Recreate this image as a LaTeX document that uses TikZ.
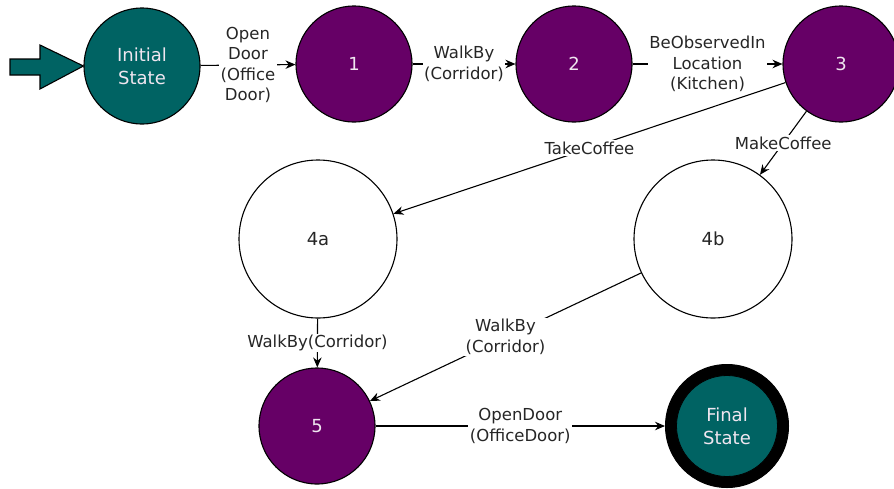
\documentclass[tikz,border=0pt]{standalone}
\usepackage{fontspec}
\setmainfont{DejaVu Sans}
\usetikzlibrary{arrows.meta}
\definecolor{stteal}{HTML}{006363}
\definecolor{stpurple}{HTML}{660066}
\definecolor{sttext}{HTML}{F0E6F0}
\tikzset{
  every picture/.style={x=1pt,y=-1pt},
  stbase/.style={circle,draw=black,line width=1.1pt,inner sep=0pt,align=center,
    font=\fontsize{18}{23}\selectfont},
  stinit/.style={stbase,fill=stteal,text=sttext,minimum size=116pt},
  stmid/.style={stbase,fill=stpurple,text=sttext,minimum size=116pt},
  stbig/.style={stbase,fill=white,text=black!85,minimum size=158pt},
  stfinal/.style={circle,fill=black,draw=black,line width=1pt,minimum size=123pt,inner sep=0pt},
  stfinalin/.style={stbase,fill=stteal,text=sttext,minimum size=101pt,line width=0.8pt},
  sttrans/.style={draw=black,line width=1.1pt,-{Stealth[length=10pt,width=8.5pt]}},
  stlab/.style={fill=white,inner sep=1.5pt,align=center,text=black!85,
    font=\fontsize{16.5}{20.5}\selectfont},
}
\begin{document}
\begin{tikzpicture}
\useasboundingbox (0,0) rectangle (894,488);
\node[stinit] (init) at (142,66) {Initial\\State};
\node[stmid] (s1) at (354,64) {1};
\node[stmid] (s2) at (574,64) {2};
\node[stmid] (s3) at (841,64) {3};
\node[stbig] (s4a) at (318,239) {4a};
\node[stbig] (s4b) at (713,239) {4b};
\node[stmid] (s5) at (317,426) {5};
\node[stfinal] (fin) at (727,426) {};
\node[stfinalin] (finin) at (fin.center) {Final\\State};
\draw[fill=stteal,line width=1.1pt,line join=miter] (10,59) -- (40,59) -- (40,45) -- (init.west) -- (40,89) -- (40,75) -- (10,75) -- cycle;
\draw[sttrans] (init) -- node[stlab] {Open\\Door\\(Office\\Door)} (s1);
\draw[sttrans] (s1) -- node[stlab] {WalkBy\\(Corridor)} (s2);
\draw[sttrans] (s2) -- node[stlab] {BeObservedIn\\Location\\(Kitchen)} (s3);
\draw[sttrans] (s3) -- node[stlab] {TakeCoffee} (s4a);
\draw[sttrans] (s3) -- node[stlab] {MakeCoffee} (s4b);
\draw[sttrans] (s4a) -- node[stlab] {WalkBy(Corridor)} (s5);
\draw[sttrans] (s4b) -- node[stlab] {WalkBy\\(Corridor)} (s5);
\draw[sttrans] (s5) -- node[stlab] {OpenDoor\\(OfficeDoor)} (fin);
\end{tikzpicture}
\end{document}
